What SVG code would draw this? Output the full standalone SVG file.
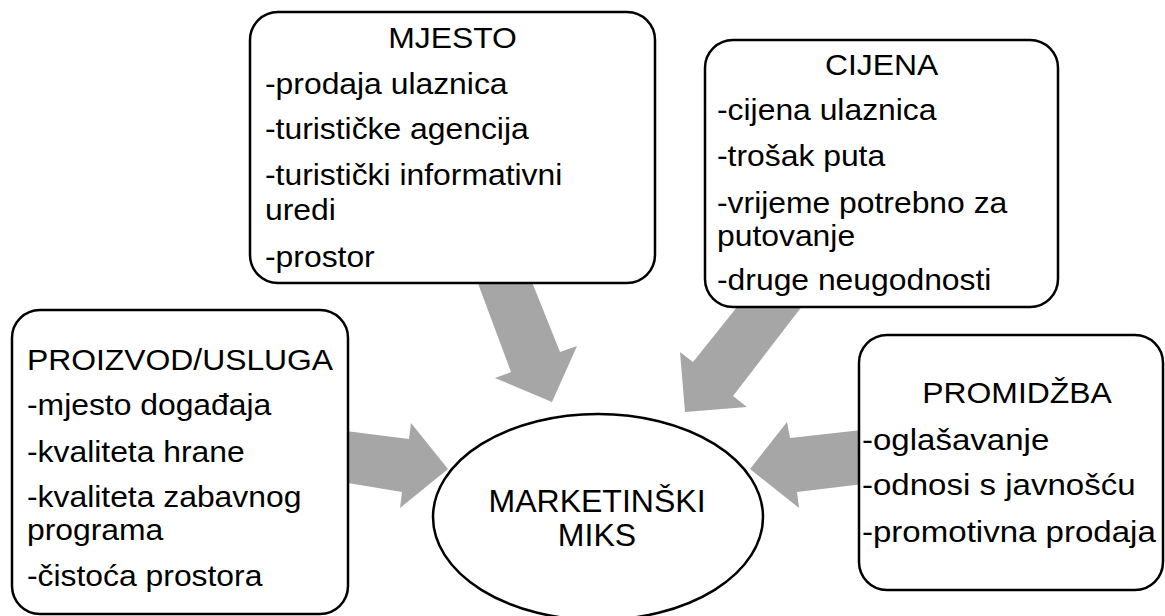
<svg xmlns="http://www.w3.org/2000/svg" width="1165" height="616" viewBox="0 0 1165 616">
<style>
.box{fill:#fff;stroke:#000;stroke-width:2.5}
.arr{fill:#a6a6a6;stroke:none}
.t{font-family:"Liberation Sans",Arial,sans-serif;font-size:29.5px;fill:#000}
.m{text-anchor:middle}
</style>
<rect width="1165" height="616" fill="#fff"/>
<g id="connectors">
<polygon class="arr" points="470,262 524,262 560,352 577,346 552,402 495,378 511,372"/>
<polygon class="arr" points="749,292 813,292 733,396 747,407 685,412 680,352 693,362"/>
<polygon class="arr" points="330,429 409,439 411,423 448,469 400,508 402,492 330,480"/>
<polygon class="arr" points="880,428 790,438 787,422 750,469 799,508 797,492 880,482"/>
</g>
<g id="mjesto">
<rect class="box" x="250" y="12" width="405" height="271" rx="28"/>
<text class="t m" transform="translate(452.5,48) scale(1.08 1)">MJESTO</text>
<text class="t" transform="translate(265,94) scale(1.08 1)">-prodaja ulaznica</text>
<text class="t" transform="translate(265,139) scale(1.08 1)">-turističke agencija</text>
<text class="t" transform="translate(265,185) scale(1.08 1)">-turistički informativni</text>
<text class="t" transform="translate(265,220) scale(1.08 1)">uredi</text>
<text class="t" transform="translate(265,267) scale(1.08 1)">-prostor</text>
</g>
<g id="cijena">
<rect class="box" x="705" y="40" width="353" height="267" rx="28"/>
<text class="t m" transform="translate(881.5,75) scale(1.08 1)">CIJENA</text>
<text class="t" transform="translate(717,120) scale(1.08 1)">-cijena ulaznica</text>
<text class="t" transform="translate(717,166) scale(1.08 1)">-trošak puta</text>
<text class="t" transform="translate(717,213) scale(1.08 1)">-vrijeme potrebno za</text>
<text class="t" transform="translate(717,246) scale(1.08 1)">putovanje</text>
<text class="t" transform="translate(717,290) scale(1.08 1)">-druge neugodnosti</text>
</g>
<g id="proizvod">
<rect class="box" x="12" y="310" width="336" height="304" rx="28"/>
<text class="t" transform="translate(27,370) scale(1.08 1)">PROIZVOD/USLUGA</text>
<text class="t" transform="translate(27,415) scale(1.08 1)">-mjesto događaja</text>
<text class="t" transform="translate(27,462) scale(1.08 1)">-kvaliteta hrane</text>
<text class="t" transform="translate(27,507) scale(1.08 1)">-kvaliteta zabavnog</text>
<text class="t" transform="translate(27,540) scale(1.08 1)">programa</text>
<text class="t" transform="translate(27,586) scale(1.08 1)">-čistoća prostora</text>
</g>
<g id="promidzba">
<rect class="box" x="859" y="335" width="304" height="255" rx="28"/>
<text class="t m" transform="translate(1017,403) scale(1.08 1)">PROMIDŽBA</text>
<text class="t" transform="translate(862,450) scale(1.12 1)">-oglašavanje</text>
<text class="t" transform="translate(862,495) scale(1.12 1)">-odnosi s javnošću</text>
<text class="t" transform="translate(862,542) scale(1.12 1)">-promotivna prodaja</text>
</g>
<g id="marketinski-miks">
<ellipse class="box" cx="598" cy="517" rx="165" ry="103"/>
<text class="t m" transform="translate(597,512) scale(1.05 1)" style="font-size:30.5px">MARKETINŠKI</text>
<text class="t m" transform="translate(597,546) scale(1.05 1)" style="font-size:30.5px">MIKS</text>
</g>
</svg>
